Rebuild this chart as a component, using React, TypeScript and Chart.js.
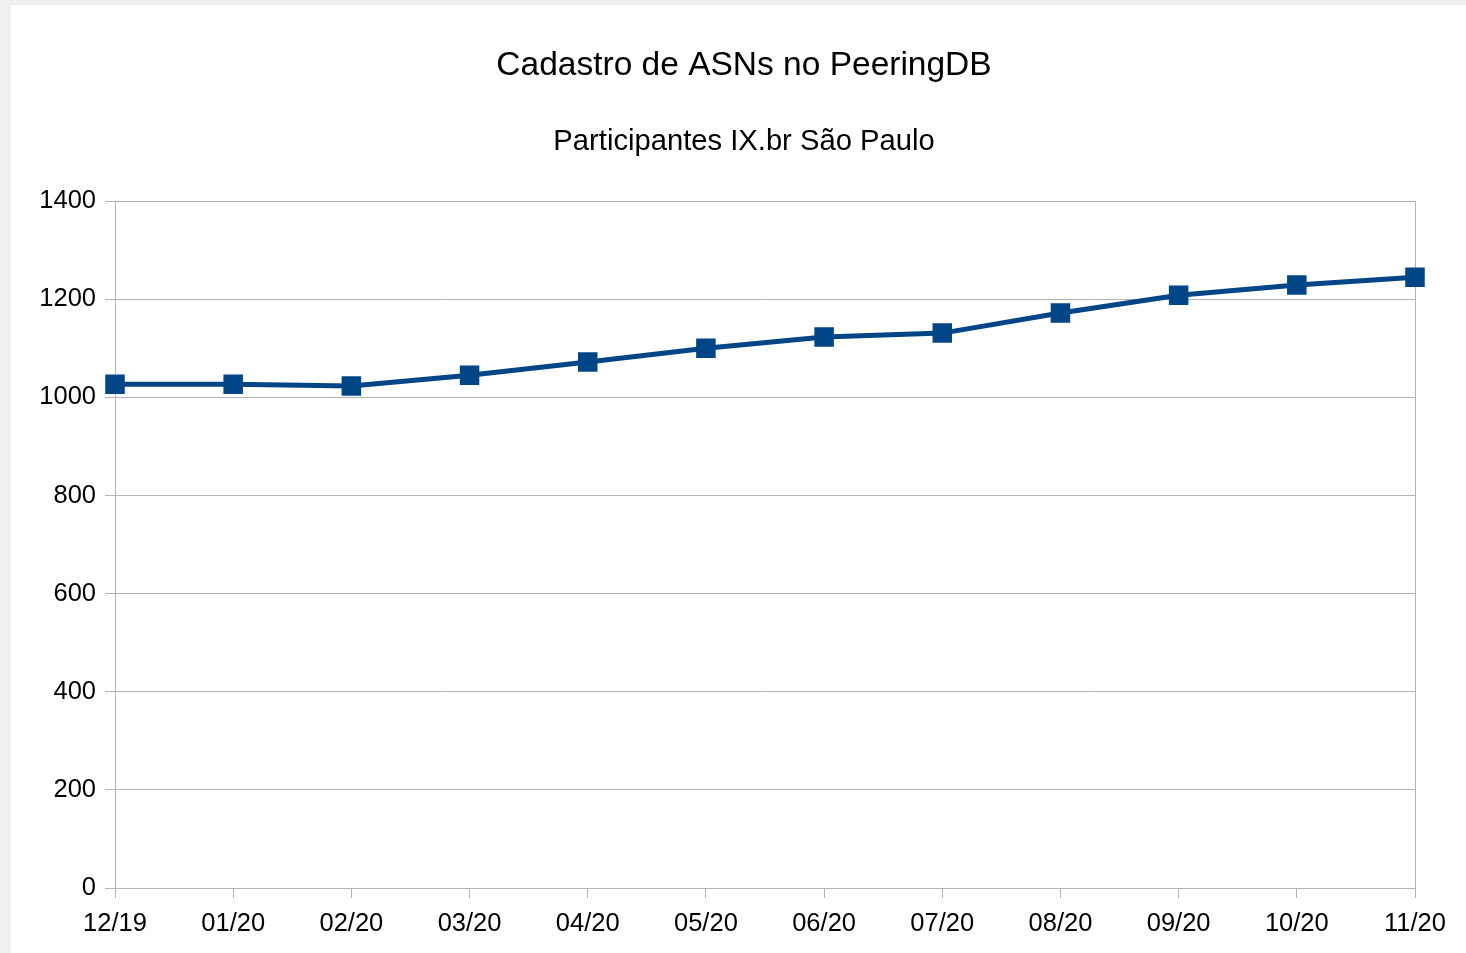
import React, { useEffect, useRef } from "react";
import { Chart, registerables } from "chart.js";

Chart.register(...registerables);

const categories = ["12/19", "01/20", "02/20", "03/20", "04/20", "05/20", "06/20", "07/20", "08/20", "09/20", "10/20", "11/20"];
const asnValues = [1027, 1027, 1023, 1045, 1072, 1100, 1123, 1131, 1172, 1208, 1229, 1245];
const titleText = "Cadastro de ASNs no PeeringDB";
const subtitleText = "Participantes IX.br São Paulo";
const yMin = 0;
const yMax = 1400;
const yStep = 200;

const FONT = "'Liberation Sans', Arial, sans-serif";
const GRID = "#b3b3b3";
const LINE = "#004586";

export default function App() {
  const ref = useRef<HTMLCanvasElement | null>(null);

  useEffect(() => {
    if (!ref.current) return;
    const last = categories.length - 1;
    const chart = new Chart(ref.current, {
      type: "line",
      data: {
        labels: categories,
        datasets: [
          {
            label: "ASNs",
            data: asnValues,
            yAxisID: "y",
            borderColor: LINE,
            backgroundColor: LINE,
            borderWidth: 5,
            pointStyle: "rect",
            pointRadius: 13.8,
            pointBorderWidth: 0,
            pointBackgroundColor: LINE,
            tension: 0,
          },
        ],
      },
      options: {
        animation: false,
        responsive: false,
        maintainAspectRatio: false,
        layout: { padding: { top: 0, left: 11, right: 0, bottom: 0 } },
        plugins: {
          legend: { display: false },
          tooltip: { enabled: false },
          title: {
            display: true,
            text: titleText,
            color: "#000",
            font: { family: FONT, size: 33.5, weight: "normal", lineHeight: 1.2 },
            padding: { top: 41, bottom: 38.4 },
          },
          subtitle: {
            display: true,
            text: subtitleText,
            color: "#000",
            font: { family: FONT, size: 29.2, weight: "normal", lineHeight: 1.2 },
            padding: { top: 0, bottom: 41.5 },
          },
        },
        scales: {
          x: {
            offset: false,
            afterFit: (scale: any) => {
              scale.height = 65;
            },
            grid: {
              display: true,
              drawOnChartArea: true,
              color: (ctx: any) => (ctx.index === 0 || ctx.index === last ? GRID : "rgba(0,0,0,0)"),
              tickColor: GRID,
              tickLength: 10,
              lineWidth: 1,
            },
            border: { display: true, color: GRID, width: 1 },
            ticks: {
              color: "#000",
              font: { family: FONT, size: 25.5 },
              padding: 11,
              maxRotation: 0,
              autoSkip: false,
            },
          },
          y: {
            min: yMin,
            max: yMax,
            afterFit: (scale: any) => {
              scale.width = 93;
            },
            grid: { color: GRID, tickColor: GRID, tickLength: 10, lineWidth: 1 },
            border: { display: true, color: GRID, width: 1 },
            ticks: {
              stepSize: yStep,
              color: "#000",
              font: { family: FONT, size: 25.5 },
              padding: 9,
              callback: (v: any) => String(v),
            },
          },
          yRight: {
            position: "right",
            display: true,
            afterFit: (scale: any) => {
              scale.width = 51;
            },
            grid: { display: false, drawTicks: false },
            border: { display: false },
            ticks: { display: false },
          },
        },
      },
    });
    return () => chart.destroy();
  }, []);

  return (
    <div style={{ position: "fixed", left: 0, top: 0, width: 1466, height: 953, background: "#f0f0f0" }}>
      <div style={{ position: "absolute", left: 11, top: 5, width: 1455, height: 948, background: "#fff" }}>
        <canvas ref={ref} width={1455} height={948} style={{ display: "block" }} />
      </div>
    </div>
  );
}
